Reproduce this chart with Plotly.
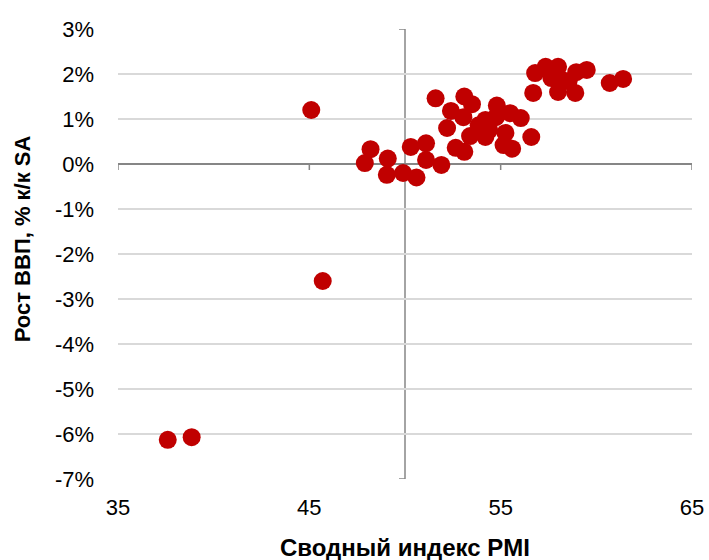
import plotly.graph_objects as go

# Data: composite PMI vs GDP growth (% q/q SA)
pmi = [37.6, 38.85, 45.1, 45.7, 47.9, 48.2, 49.1, 49.05, 49.9, 50.6,
       50.3, 51.1, 51.1, 51.9, 51.6, 52.2, 52.4, 52.65, 53.1, 53.1,
       53.5, 53.05, 53.4, 53.85, 54.2, 54.8, 54.75, 54.4, 55.25, 55.15,
       55.6, 55.5, 56.05, 56.6, 56.7, 56.8, 57.35, 58.0, 57.65, 58.0,
       58.55, 58.9, 58.95, 59.5, 60.7, 61.4, 54.2, 58.2]
gdp = [-6.13, -6.07, 1.20, -2.60, 0.02, 0.33, 0.12, -0.24, -0.20, -0.30,
       0.38, 0.46, 0.09, -0.02, 1.46, 0.80, 1.18, 0.36, 0.27, 1.50,
       1.33, 1.04, 0.62, 0.86, 0.60, 1.30, 1.04, 0.76, 0.69, 0.42,
       0.34, 1.13, 1.02, 0.60, 1.58, 2.02, 2.16, 2.16, 1.91, 1.60,
       1.84, 1.58, 2.04, 2.09, 1.80, 1.89, 0.98, 1.87]

x_ticks = [35, 45, 55, 65]
y_ticks = [-7, -6, -5, -4, -3, -2, -1, 0, 1, 2, 3]
y_tick_text = [f"{v}%" for v in y_ticks]
x_cross = 50  # vertical axis crosses at PMI = 50

x_title = "Сводный индекс PMI"
y_title = "Рост ВВП, % к/к SA"

AXIS_COLOR = "#868686"
GRID_COLOR = "#d9d9d9"
FONT = "Liberation Sans, Arial, sans-serif"

fig = go.Figure()
fig.add_trace(go.Scatter(
    x=pmi, y=gdp, mode="markers",
    marker=dict(size=18, color="#C00000", line=dict(width=0)),
    hoverinfo="x+y", showlegend=False,
))

shapes = []
# vertical axis line at PMI=50
shapes.append(dict(type="line", xref="x", yref="y", x0=x_cross, x1=x_cross,
                   y0=min(y_ticks), y1=max(y_ticks),
                   line=dict(color=AXIS_COLOR, width=1.5), layer="below"))
# tick marks on vertical axis
for v in y_ticks:
    shapes.append(dict(type="line", xref="x", yref="y", xsizemode="pixel",
                       xanchor=x_cross, x0=-6, x1=0, y0=v, y1=v,
                       line=dict(color=AXIS_COLOR, width=1.5), layer="below"))
# tick marks on horizontal axis (y=0)
for v in x_ticks:
    shapes.append(dict(type="line", xref="x", yref="y", ysizemode="pixel",
                       yanchor=0, y0=0, y1=-6, x0=v, x1=v,
                       line=dict(color=AXIS_COLOR, width=1.5), layer="below"))

fig.update_layout(
    width=709, height=560,
    margin=dict(l=118, r=17, t=29, b=81, autoexpand=False),
    paper_bgcolor="white", plot_bgcolor="white",
    font=dict(family=FONT, size=22, color="#000000"),
    shapes=shapes,
    xaxis=dict(range=[35, 65], tickvals=x_ticks, ticktext=[str(v) for v in x_ticks],
               showgrid=False, zeroline=False, showline=False, ticks="",
               ticklabelstandoff=13, fixedrange=True, automargin=False),
    yaxis=dict(range=[-7, 3], tickvals=y_ticks, ticktext=y_tick_text,
               showgrid=True, gridcolor=GRID_COLOR, gridwidth=1.5,
               zeroline=True, zerolinecolor=AXIS_COLOR, zerolinewidth=1.5,
               showline=False, ticks="", ticklabelstandoff=23, fixedrange=True,
               automargin=False),
    annotations=[
        dict(text=f"<b>{x_title}</b>", xref="paper", yref="paper",
             x=0.5, y=-0.153, xanchor="center", yanchor="middle",
             showarrow=False, font=dict(size=24)),
        dict(text=f"<b>{y_title}</b>", xref="paper", yref="paper",
             x=-0.167, y=0.533, xanchor="center", yanchor="middle",
             textangle=-90, showarrow=False, font=dict(size=22)),
    ],
)

fig.write_html("out.html", config={"displayModeBar": False},
               post_script="document.body.style.margin='0';document.body.style.padding='0';")
